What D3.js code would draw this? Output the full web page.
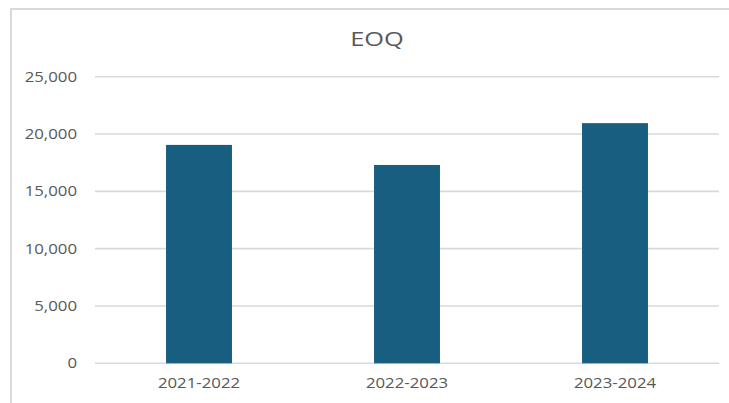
<!DOCTYPE html>
<html>
<head>
<meta charset="utf-8">
<script src="https://cdn.jsdelivr.net/npm/d3@7"></script>
<style>
	body { margin: 0; background: #fff; }
	text { font-family: "Open Sans", sans-serif; fill: #595959; }
</style>
</head>
<body>
<div id="chart"></div>
<script>

// chart data
var categories = ["2021-2022", "2022-2023", "2023-2024"];
var eoqValues = [19050, 17300, 20950];
var yTicks = [0, 5000, 10000, 15000, 20000, 25000];
var chartTitle = "EOQ";

var W = 729, H = 403;
var margin = {top: 76.7, right: 10, bottom: 39.7, left: 95};

var svg = d3.select("#chart").append("svg")
	.attr("width", W)
	.attr("height", H);

// outer chart border (runs off the right and bottom)
svg.append("rect")
	.attr("x", 11).attr("y", 9)
	.attr("width", 900).attr("height", 600)
	.attr("fill", "none")
	.attr("stroke", "#d9d9d9")
	.attr("stroke-width", 2);

var x = d3.scaleBand()
	.domain(categories)
	.range([margin.left, W - margin.right])
	.paddingInner(0.683)
	.paddingOuter(0.3415);

var y = d3.scaleLinear()
	.domain([0, 25000])
	.range([H - margin.bottom, margin.top]);

// gridlines
svg.append("g").selectAll("line")
	.data(yTicks)
	.enter().append("line")
	.attr("x1", margin.left)
	.attr("x2", W - margin.right)
	.attr("y1", function(d) { return y(d); })
	.attr("y2", function(d) { return y(d); })
	.attr("stroke", "#d9d9d9")
	.attr("stroke-width", 1.6);

// y labels, stretched a bit wider like the original
var fmt = d3.format(",");
svg.append("g").selectAll("text")
	.data(yTicks)
	.enter().append("text")
	.attr("transform", function(d) { return "translate(77," + (y(d) + 5) + ") scale(1.2,1)"; })
	.attr("text-anchor", "end")
	.attr("font-size", 14)
	.text(function(d) { return fmt(d); });

// bars
svg.append("g").selectAll("rect")
	.data(eoqValues)
	.enter().append("rect")
	.attr("x", function(d, i) { return x(categories[i]); })
	.attr("width", x.bandwidth())
	.attr("y", function(d) { return y(d); })
	.attr("height", function(d) { return y(0) - y(d); })
	.attr("fill", "#175e80");

// category labels
svg.append("g").selectAll("text")
	.data(categories)
	.enter().append("text")
	.attr("transform", function(d) { return "translate(" + (x(d) + x.bandwidth() / 2) + ",388) scale(1.2,1)"; })
	.attr("text-anchor", "middle")
	.attr("font-size", 14)
	.text(function(d) { return d; });

// title
svg.append("text")
	.attr("transform", "translate(377,46) scale(1.27,1)")
	.attr("text-anchor", "middle")
	.attr("font-size", 20)
	.text(chartTitle);

</script>
</body>
</html>
